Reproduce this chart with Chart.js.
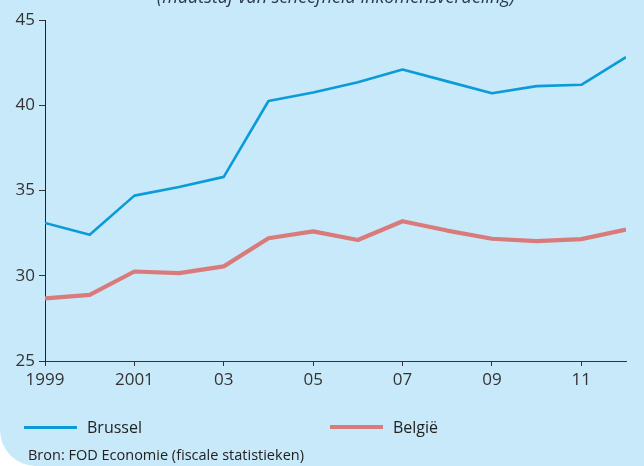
<!DOCTYPE html>
<html>
<head>
<meta charset="utf-8">
<script src="https://cdn.jsdelivr.net/npm/chart.js@4/dist/chart.umd.min.js"></script>
<style>
  html, body { margin: 0; padding: 0; background: #ffffff; }
  #panel { position: relative; width: 644px; height: 466px; background: #c8e9f9; overflow: hidden;
           border-bottom-left-radius: 36px; font-family: "Open Sans", "Noto Sans", sans-serif; color: #222; }
  #chart { position: absolute; left: 0; top: 0; }
  #title { position: absolute; left: 0; width: 672px; top: -13px; text-align: center; font-style: italic;
           font-size: 18px; line-height: 18px; color: #2b3a4a; }
  .leg { position: absolute; top: 417px; font-size: 16px; line-height: 20px; display: flex; align-items: center; color: #222; }
  .leg span.sw { display: inline-block; width: 53px; margin-right: 10px; }
  #source { position: absolute; left: 28px; top: 446px; font-size: 14.5px; line-height: 18px; color: #222; }
</style>
</head>
<body>
<div id="panel">
  <canvas id="chart" width="644" height="466"></canvas>
  <div id="title">(maatstaf van scheefheid inkomensverdeling)</div>
  <div id="legend"></div>
  <div id="source">Bron: FOD Economie (fiscale statistieken)</div>
</div>
<script>
const years = [1999, 2000, 2001, 2002, 2003, 2004, 2005, 2006, 2007, 2008, 2009, 2010, 2011, 2012];
const brussel = [33.1, 32.4, 34.7, 35.2, 35.8, 40.25, 40.75, 41.35, 42.1, 41.4, 40.7, 41.12, 41.2, 42.82];
const belgie  = [28.67, 28.88, 30.25, 30.15, 30.55, 32.2, 32.6, 32.1, 33.2, 32.65, 32.17, 32.03, 32.15, 32.71];
const seriesNames = ['Brussel', 'België'];
const xTickValues = [1999, 2001, 2003, 2005, 2007, 2009, 2011];
const xTickLabels = ['1999', '2001', '03', '05', '07', '09', '11'];
const yTickValues = [25, 30, 35, 40, 45];

const colors = ['#0b9bd9', '#d97b7b'];
const widths = [2.6, 4.2];

const datasets = [brussel, belgie].map((vals, i) => ({
  label: seriesNames[i],
  data: years.map((y, j) => ({ x: y, y: vals[j] })),
  borderColor: colors[i],
  backgroundColor: colors[i],
  borderWidth: widths[i],
  pointRadius: 0,
  tension: 0,
  borderJoinStyle: 'round',
  borderCapStyle: 'butt'
}));

// HTML legend built from dataset names/colours
const legPos = [24, 330];
const legend = document.getElementById('legend');
seriesNames.forEach((n, i) => {
  const d = document.createElement('div');
  d.className = 'leg';
  d.style.left = legPos[i] + 'px';
  d.innerHTML = '<span class="sw" style="height:' + Math.round(widths[i]) + 'px;background:' + colors[i] + '"></span>' + n;
  legend.appendChild(d);
});

Chart.defaults.font.family = '"Open Sans", "Noto Sans", sans-serif';
Chart.defaults.color = '#333';

new Chart(document.getElementById('chart'), {
  type: 'line',
  data: { datasets },
  options: {
    responsive: false,
    animation: false,
    layout: { padding: { top: 20, right: 18, left: 0, bottom: 0 } },
    plugins: { legend: { display: false }, tooltip: { enabled: false }, title: { display: false } },
    scales: {
      x: {
        type: 'linear', min: 1999, max: 2012,
        afterBuildTicks: s => { s.ticks = xTickValues.map(v => ({ value: v })); },
        afterFit: s => { s.height = 105; },
        ticks: {
          autoSkip: false, maxRotation: 0, padding: 4,
          font: { size: 17 }, color: '#333',
          callback: (v) => { const k = xTickValues.indexOf(v); return k >= 0 ? xTickLabels[k] : ''; }
        },
        grid: { drawOnChartArea: false, tickLength: 5, color: '#333', lineWidth: 1 },
        border: { display: true, color: '#333', width: 1 }
      },
      y: {
        min: 25, max: 45,
        afterBuildTicks: s => { s.ticks = yTickValues.map(v => ({ value: v })); },
        afterFit: s => { s.width = 45; },
        ticks: { padding: 4, font: { size: 17 }, color: '#333' },
        grid: { drawOnChartArea: false, tickLength: 6, color: '#333', lineWidth: 1 },
        border: { display: true, color: '#222', width: 1 }
      }
    }
  }
});
</script>
</body>
</html>
